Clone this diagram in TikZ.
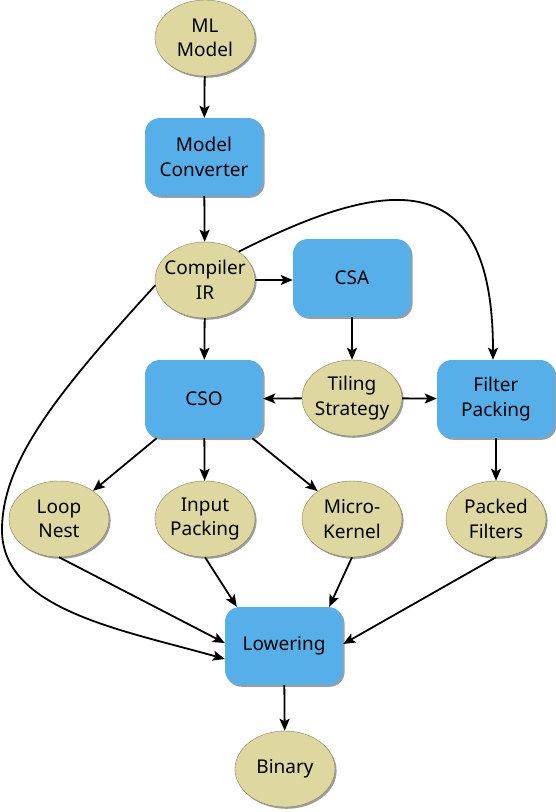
\documentclass[tikz,border=0pt]{standalone}
\usepackage{fontspec}
\setmainfont{Noto Sans}
\usetikzlibrary{arrows.meta,shadows,shapes.geometric}
\definecolor{ellfill}{HTML}{DED8A0}
\definecolor{boxfill}{HTML}{56AFE9}
\begin{document}
\begin{tikzpicture}[x=1pt,y=-1pt,
  font=\fontsize{19}{24.5}\selectfont,
  shadowed/.style={drop shadow={shadow xshift=1.6pt,shadow yshift=-1.8pt,fill=black!70,opacity=0.55}},
  ell/.style={ellipse,fill=ellfill,draw=ellfill!60!black,line width=0.4pt,minimum width=100pt,minimum height=76pt,inner sep=-15pt,align=center,shadowed},
  bx/.style={rectangle,rounded corners=15pt,fill=boxfill,minimum width=118pt,minimum height=78pt,inner sep=0pt,align=center,shadowed},
  arr/.style={-{Stealth[length=12pt,width=10pt,inset=2.5pt]},line width=1.8pt,black}
]
\useasboundingbox (0,0) rectangle (556,812);
\node[ell] (ml) at (205,38) {ML\\Model};
\node[bx] (mc) at (204,157) {Model\\Converter};
\node[ell] (cir) at (205,280) {Compiler\\IR};
\node[bx] (csa) at (352,278) {CSA};
\node[bx] (cso) at (204,399) {CSO};
\node[ell] (ts) at (352,398) {Tiling\\Strategy};
\node[bx] (fp) at (496,399) {Filter\\Packing};
\node[ell] (ln) at (59,519) {Loop\\Nest};
\node[ell] (ip) at (205,519) {Input\\Packing};
\node[ell] (mk) at (352,519) {Micro-\\Kernel};
\node[ell] (pf) at (496,519) {Packed\\Filters};
\node[bx] (low) at (284,646) {Lowering};
\node[ell] (bin) at (285,769) {Binary};

\draw[arr] (ml) -- (mc);
\draw[arr] (mc) -- (cir);
\draw[arr] (cir) -- (cso);
\draw[arr] (cir.east) -- (csa.west |- cir.east);
\draw[arr] (csa) -- (ts);
\draw[arr] (ts) -- (cso);
\draw[arr] (ts) -- (fp);
\draw[arr] (cir.40) .. controls (390,175) and (493,165) .. ([xshift=-3pt]fp.north);
\draw[arr] (cir.186) .. controls (60,390) and (2,460) .. (2,530)
  .. controls (2,610) and (123,630) .. ([yshift=-13pt]low.west);
\draw[arr] (cso) -- (ln);
\draw[arr] (cso) -- (ip);
\draw[arr] (cso) -- (mk);
\draw[arr] (fp) -- (pf);
\draw[arr] (ln.south) -- ([yshift=3pt]low.west);
\draw[arr] (ip.south) -- ([xshift=12pt]low.north west);
\draw[arr] (mk.south) -- ([xshift=-14pt]low.north east);
\draw[arr] (pf.south) -- ([yshift=2pt]low.east);
\draw[arr] (low) -- (bin);
\end{tikzpicture}
\end{document}
